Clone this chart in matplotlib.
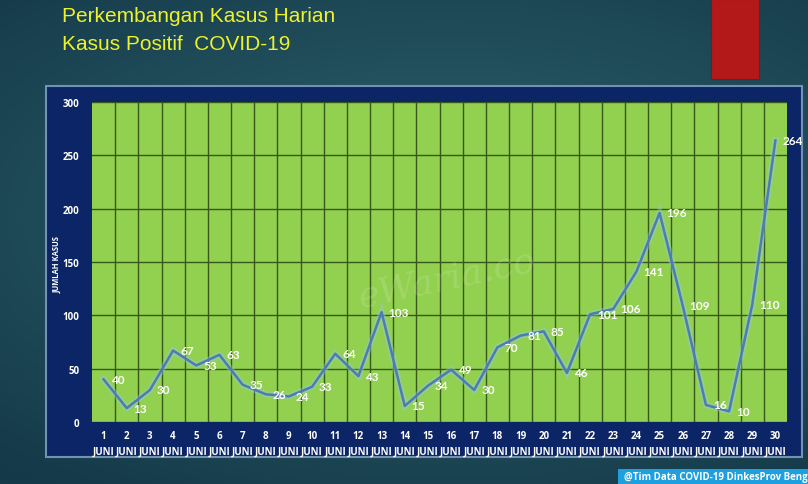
import numpy as np
import matplotlib.pyplot as plt
from matplotlib.patches import Rectangle

days = list(range(1, 31))
kasus = [40, 13, 30, 67, 53, 63, 35, 26, 24, 33, 64, 43, 103, 15, 34,
         49, 30, 70, 81, 85, 46, 101, 106, 141, 196, 109, 16, 10, 110, 264]
tick_labels = [f"{d}\nJUNI" for d in days]
y_ticks = [0, 50, 100, 150, 200, 250, 300]

W, H = 808, 485
fig = plt.figure(figsize=(W / 100, H / 100), dpi=100)

# background gradient (dark teal)
bg = fig.add_axes([0, 0, 1, 1], zorder=-10)
yy, xx = np.mgrid[0:1:200j, 0:1:300j]
r = np.sqrt(((xx - 0.55) / 1.1) ** 2 + ((yy - 0.55) / 0.9) ** 2)
c_in = np.array([0x2e, 0x63, 0x6c]) / 255
c_out = np.array([0x15, 0x3a, 0x4a]) / 255
t = np.clip(r / 0.75, 0, 1)[..., None]
img = c_in * (1 - t) + c_out * t
bg.imshow(img, extent=[0, 1, 0, 1], aspect='auto', origin='lower')
bg.set_axis_off()

# navy panel
fig.patches.append(Rectangle((46 / W, 1 - 458 / H), (802 - 46) / W, (458 - 87) / H,
                             transform=fig.transFigure, facecolor='#0b2566',
                             edgecolor='#7391b3', linewidth=1.5, zorder=-5))
# red block
fig.patches.append(Rectangle((711 / W, 1 - 80 / H), 48 / W, 80 / H,
                             transform=fig.transFigure, facecolor='#b31919',
                             edgecolor='#8a1212', linewidth=0.8, zorder=-5))
# credit bar
fig.patches.append(Rectangle((618 / W, 0), (W - 618) / W, 15 / H,
                             transform=fig.transFigure, facecolor='#1d9fe0',
                             edgecolor='none', zorder=-5))
fig.text(624 / W, 7.5 / H, "@Tim Data COVID-19 DinkesProv Bengkulu", color='white',
         fontsize=7, fontweight='bold', va='center', ha='left', family='Open Sans')

# title
fig.text(62 / W, 1 - 17 / H, "Perkembangan Kasus Harian", color='#eef22a',
         fontsize=15, va='center', ha='left', family='Liberation Sans')
fig.text(62 / W, 1 - 45 / H, "Kasus Positif  COVID-19", color='#eef22a',
         fontsize=15, va='center', ha='left', family='Liberation Sans')

ax = fig.add_axes([92 / W, 1 - 423 / H, (787 - 92) / W, (423 - 103) / H])
ax.set_facecolor('#92d050')
ax.set_xlim(0.5, 30.5)
ax.set_ylim(0, 300)

ax.set_xticks(days)
ax.set_xticklabels(tick_labels, color='white', fontsize=7, fontweight='bold',
                   family='Open Sans', linespacing=1.55)
ax.set_xticks([d + 0.5 for d in days[:-1]], minor=True)
ax.set_yticks(y_ticks)
ax.set_yticklabels([str(v) for v in y_ticks], color='white', fontsize=7,
                   fontweight='bold', family='Open Sans')
ax.tick_params(axis='both', which='both', length=0)
ax.tick_params(axis='x', pad=6)
ax.tick_params(axis='y', pad=9)
ax.grid(True, axis='x', which='minor', color='#38571b', linewidth=1)
ax.grid(True, axis='y', which='major', color='#38571b', linewidth=1)
ax.set_axisbelow(True)
for s in ax.spines.values():
    s.set_visible(False)

fig.text(57 / W, 1 - 265 / H, "JUMLAH KASUS", color='white', fontsize=5.5,
         fontweight='bold', rotation=90, va='center', ha='center', family='Open Sans')

# watermark
ax.text(15.8, 135, "eWaria.co", color='white', alpha=0.14, fontsize=26,
        style='italic', rotation=12, ha='center', va='center', family='DejaVu Serif')

ax.plot(days, kasus, color='#9cc6e8', linewidth=4.5, alpha=0.4, solid_joinstyle='miter')
ax.plot(days, kasus, color='#4a7db4', linewidth=1.8)

for d, v in zip(days, kasus):
    ax.annotate(str(v), (d, v), xytext=(5, 0), textcoords='offset points',
                ha='left', va='center', color='white', fontsize=8.5,
                fontweight='bold', family='Lato', annotation_clip=False)

fig.savefig('out.png', dpi=100)
